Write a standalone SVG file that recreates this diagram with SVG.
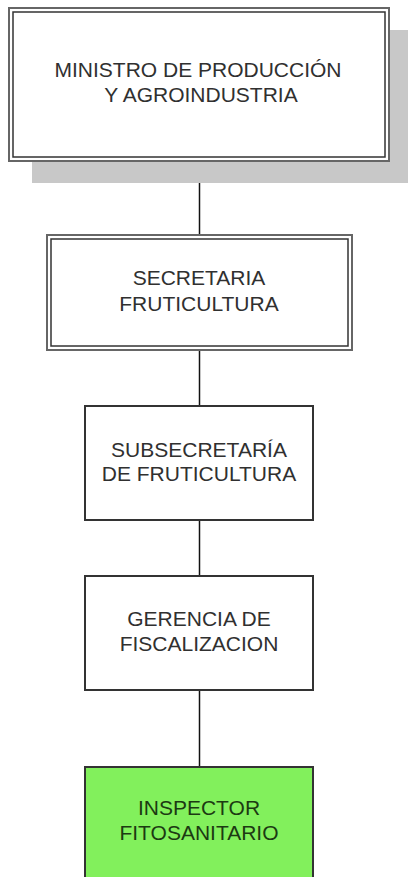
<svg xmlns="http://www.w3.org/2000/svg" width="408" height="877" viewBox="0 0 408 877">
<style>
.t{font-family:"Liberation Sans",Arial,sans-serif;font-size:21px;fill:#303030;text-anchor:middle}
.g{fill:#1c3a12}
.outer{fill:#fff;stroke:#666;stroke-width:2}
.inner{fill:none;stroke:#333;stroke-width:1.5}
.box{fill:#fff;stroke:#333;stroke-width:2}
.c{stroke:#111;stroke-width:1.5;fill:none}
</style>
<rect width="408" height="877" fill="#fff"/>
<g id="connectors">
<line class="c" x1="199.5" y1="162" x2="199.5" y2="235"/>
<line class="c" x1="199.5" y1="351" x2="199.5" y2="406"/>
<line class="c" x1="199.5" y1="520" x2="199.5" y2="576"/>
<line class="c" x1="199.5" y1="690" x2="199.5" y2="767"/>
</g>
<g id="ministro">
<rect x="32" y="30" width="376" height="153" fill="#c8c8c8"/>
<rect class="outer" x="9" y="8" width="380" height="153"/>
<rect class="inner" x="13" y="12" width="372" height="145"/>
<text class="t" x="198" y="77">MINISTRO DE PRODUCCIÓN</text>
<text class="t" x="201" y="102">Y AGROINDUSTRIA</text>
</g>
<g id="secretaria">
<rect class="outer" x="47" y="235" width="305" height="115"/>
<rect class="inner" x="51" y="239" width="297" height="107"/>
<text class="t" x="199" y="285">SECRETARIA</text>
<text class="t" x="199" y="311">FRUTICULTURA</text>
</g>
<g id="subsecretaria">
<rect class="box" x="85" y="406" width="228" height="114"/>
<text class="t" x="199" y="457">SUBSECRETARÍA</text>
<text class="t" x="199" y="481">DE FRUTICULTURA</text>
</g>
<g id="gerencia">
<rect class="box" x="85" y="576" width="228" height="114"/>
<text class="t" x="199" y="626">GERENCIA DE</text>
<text class="t" x="199" y="651">FISCALIZACION</text>
</g>
<g id="inspector">
<rect x="85" y="767" width="228" height="120" fill="#82f05c" stroke="#333" stroke-width="2"/>
<text class="t g" x="199" y="815">INSPECTOR</text>
<text class="t g" x="199" y="840">FITOSANITARIO</text>
</g>
</svg>
